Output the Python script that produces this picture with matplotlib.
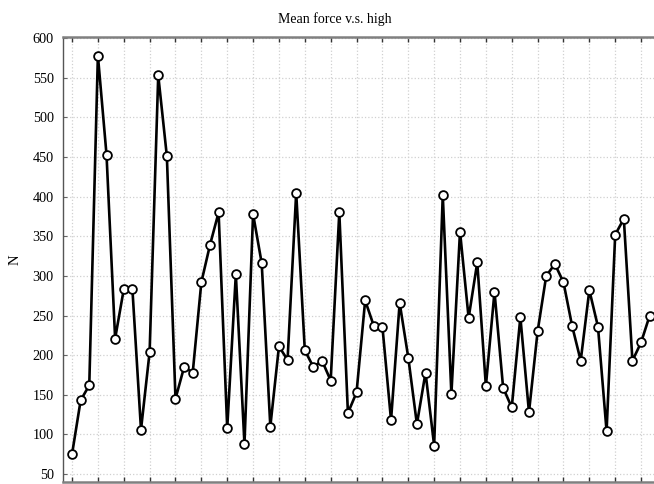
import matplotlib
matplotlib.use('Agg')
import matplotlib.pyplot as plt
import numpy as np

# mean force per sample (N)
force = [75, 143, 162, 578, 453, 221, 283, 284, 106, 204,
         553, 451, 145, 185, 178, 292, 339, 380, 108, 302,
         88, 378, 316, 110, 211, 194, 405, 206, 185, 193,
         168, 380, 127, 153, 269, 237, 236, 118, 266, 197,
         113, 178, 86, 402, 151, 356, 247, 317, 161, 280,
         159, 134, 248, 128, 230, 300, 315, 292, 237, 193,
         282, 236, 104, 352, 372, 193, 216, 250]
samples = np.arange(1, len(force) + 1)
yticks = [50, 100, 150, 200, 250, 300, 350, 400, 450, 500, 550, 600]

plt.rcParams['font.family'] = 'Liberation Serif'

fig = plt.figure(figsize=(6.54, 4.84), dpi=100)
ax = fig.add_axes([63.4 / 654, 2 / 484, 1 - 63.4 / 654, (482 - 37.3) / 484])

ax.plot(samples, force, color='black', linewidth=1.9, marker='o',
        markersize=6.3, markerfacecolor='white', markeredgecolor='black',
        markeredgewidth=1.3, zorder=3)

ax.set_xlim(0, 68.5)
ax.set_ylim(40, 601)
ax.set_xticks(samples[::3])
ax.set_yticks(yticks)
ax.tick_params(axis='x', which='both', direction='in', top=True, bottom=True,
               labelbottom=False, length=3.5, width=1, color='#333333')
ax.tick_params(axis='y', direction='in', length=3, width=0.8, color='#666666',
               labelsize=10.3, pad=7)

ax.grid(True, color='#d0d0d0', linestyle=':', linewidth=0.9)
ax.set_axisbelow(True)

for side in ['top', 'bottom']:
    ax.spines[side].set_color('#808080')
    ax.spines[side].set_linewidth(1.8)
ax.spines['left'].set_color('#555555')
ax.spines['left'].set_linewidth(1.0)
ax.spines['right'].set_visible(False)

ax.set_ylabel('N', fontsize=10.5, labelpad=8)
fig.text(335 / 654, 1 - 19 / 484, 'Mean force v.s. high', ha='center',
         va='center', fontsize=10)

fig.savefig('out.png', dpi=100)
